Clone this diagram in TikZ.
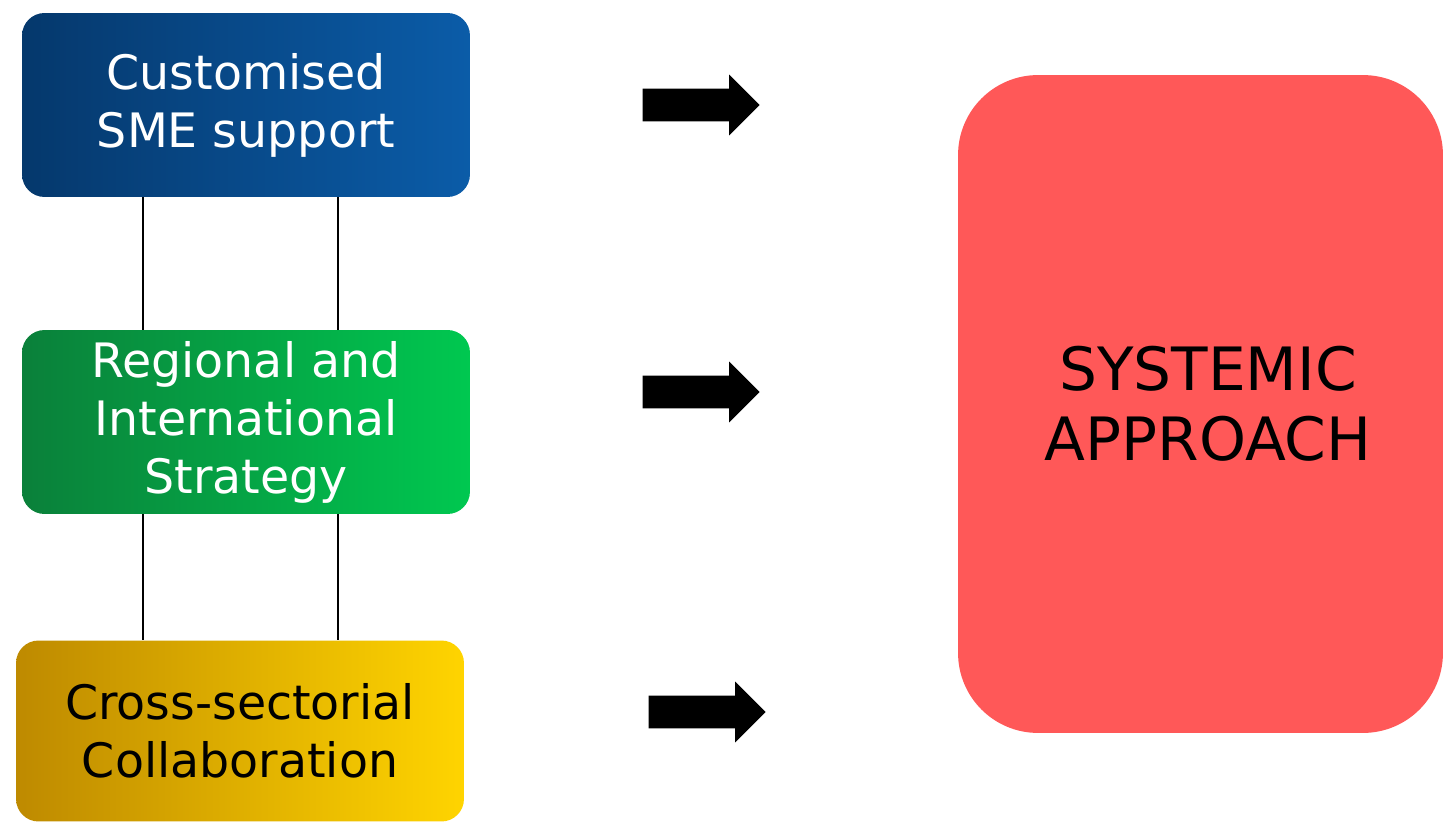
\documentclass[tikz,border=0pt]{standalone}
\usepackage{fontspec}
\setmainfont{DejaVu Sans}
\usepackage{tikz}
\usetikzlibrary{shapes, shapes.arrows, calc, positioning}
\definecolor{smeL}{RGB}{5,56,108}
\definecolor{smeR}{RGB}{11,92,168}
\definecolor{strL}{RGB}{10,128,58}
\definecolor{strR}{RGB}{0,200,80}
\definecolor{colL}{RGB}{190,138,0}
\definecolor{colR}{RGB}{255,212,0}
\definecolor{sysred}{RGB}{255,88,88}
\tikzset{
    box/.style ={rectangle, rounded corners=0.45cm, align=center, inner sep=0pt,
                 minimum width=8.96cm, minimum height=3.68cm,
                 font=\fontsize{27}{33}\selectfont}, % the three boxes on the left
    bigbox/.style ={rectangle, rounded corners=1.6cm, fill=sysred, align=center,
                 minimum width=9.7cm, minimum height=13.16cm,
                 font=\fontsize{34}{40}\selectfont},
    blockarrow/.style ={single arrow, fill=black, draw=none, inner sep=0pt,
                 inner ysep=0.32cm, single arrow head extend=0.28cm,
                 minimum height=2.34cm, anchor=tip},
    link/.style ={draw=black, line width=0.8pt}
}
\begin{document}
\begin{tikzpicture}[x=0.02cm, y=-0.02cm]
    \useasboundingbox (0,0) rectangle (1443,824);
    % left column
    \node [box, left color=smeL, right color=smeR, text=white] (sme) at (246,105)
        {Customised\\SME support};
    \node [box, left color=strL, right color=strR, text=white] (strategy) at (246,422)
        {Regional and\\International\\Strategy};
    \node [box, left color=colL, right color=colR, text=black,
           minimum height=3.62cm] (collab) at (240,731)
        {Cross-sectorial\\Collaboration};
    % links between the boxes
    \draw [link] ([xshift=-2.06cm]sme.south) -- ([xshift=-2.06cm]sme.south |- strategy.north);
    \draw [link] ([xshift=1.84cm]sme.south) -- ([xshift=1.84cm]sme.south |- strategy.north);
    \draw [link] ([xshift=-2.06cm]strategy.south) -- ([xshift=-2.06cm]strategy.south |- collab.north);
    \draw [link] ([xshift=1.84cm]strategy.south) -- ([xshift=1.84cm]strategy.south |- collab.north);
    % arrows
    \node [blockarrow] (arr1) at (760,105) {};
    \node [blockarrow] (arr2) at (760,392) {};
    \node [blockarrow] (arr3) at (766,712) {};
    % right box
    \node [bigbox] (systemic) at (1200.5,404) {\hspace*{0.3cm}SYSTEMIC\\\hspace*{0.3cm}APPROACH};
\end{tikzpicture}
\end{document}
